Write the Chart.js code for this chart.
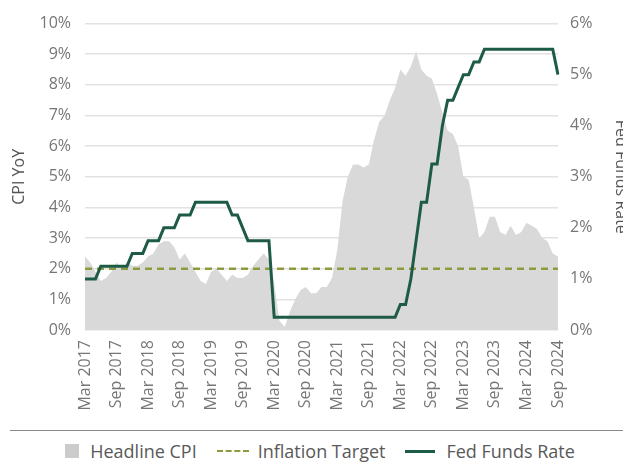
<!DOCTYPE html>
<html>
<head>
<meta charset="utf-8">
<script src="https://cdn.jsdelivr.net/npm/chart.js@4.4.1/dist/chart.umd.min.js"></script>
<style>
  html, body { margin: 0; padding: 0; background: #fff; overflow: hidden; }
  #wrap { position: relative; width: 640px; height: 466px; font-family: "Open Sans", sans-serif; }
  #box { position: absolute; left: 0; top: 0; width: 640px; height: 425px; }
  .sep { position: absolute; left: 10px; top: 430px; width: 630px; border-top: 1.5px solid #8a8a8a; }
  .legend { position: absolute; left: 0; top: 439px; width: 640px; display: flex; justify-content: center; align-items: center; font-size: 18px; color: #595959; }
  .legend span.txt { margin-right: 20px; }
  .legend span.txt:last-child { margin-right: 0; }
  .sw-box { width: 14px; height: 14px; background: #cbcbcb; margin-right: 11px; }
  .sw-dash { width: 32px; border-top: 2.5px dashed #8d9b3e; margin-right: 9px; }
  .sw-line { width: 30px; border-top: 3px solid #1e5b44; margin-right: 11px; }
</style>
</head>
<body>
<div id="wrap">
  <div id="box"><canvas id="chart"></canvas></div>
  <div class="sep"></div>
  <div class="legend">
    <span class="sw-box"></span><span class="txt">Headline CPI</span>
    <span class="sw-dash"></span><span class="txt">Inflation Target</span>
    <span class="sw-line"></span><span class="txt">Fed Funds Rate</span>
  </div>
</div>
<script>
// monthly, Mar 2017 - Sep 2024
const months = [
  'Mar 2017','Apr 2017','May 2017','Jun 2017','Jul 2017','Aug 2017','Sep 2017','Oct 2017','Nov 2017','Dec 2017',
  'Jan 2018','Feb 2018','Mar 2018','Apr 2018','May 2018','Jun 2018','Jul 2018','Aug 2018','Sep 2018','Oct 2018','Nov 2018','Dec 2018',
  'Jan 2019','Feb 2019','Mar 2019','Apr 2019','May 2019','Jun 2019','Jul 2019','Aug 2019','Sep 2019','Oct 2019','Nov 2019','Dec 2019',
  'Jan 2020','Feb 2020','Mar 2020','Apr 2020','May 2020','Jun 2020','Jul 2020','Aug 2020','Sep 2020','Oct 2020','Nov 2020','Dec 2020',
  'Jan 2021','Feb 2021','Mar 2021','Apr 2021','May 2021','Jun 2021','Jul 2021','Aug 2021','Sep 2021','Oct 2021','Nov 2021','Dec 2021',
  'Jan 2022','Feb 2022','Mar 2022','Apr 2022','May 2022','Jun 2022','Jul 2022','Aug 2022','Sep 2022','Oct 2022','Nov 2022','Dec 2022',
  'Jan 2023','Feb 2023','Mar 2023','Apr 2023','May 2023','Jun 2023','Jul 2023','Aug 2023','Sep 2023','Oct 2023','Nov 2023','Dec 2023',
  'Jan 2024','Feb 2024','Mar 2024','Apr 2024','May 2024','Jun 2024','Jul 2024','Aug 2024','Sep 2024'
];

const cpiYoY = [
  2.4, 2.2, 1.9, 1.6, 1.7, 1.9, 2.2, 2.0, 2.2, 2.1,
  2.1, 2.2, 2.4, 2.5, 2.8, 2.9, 2.9, 2.7, 2.3, 2.5, 2.2, 1.9,
  1.6, 1.5, 1.9, 2.0, 1.8, 1.6, 1.8, 1.7, 1.7, 1.8, 2.1, 2.3,
  2.5, 2.3, 1.5, 0.3, 0.1, 0.6, 1.0, 1.3, 1.4, 1.2, 1.2, 1.4,
  1.4, 1.7, 2.6, 4.2, 5.0, 5.4, 5.4, 5.3, 5.4, 6.2, 6.8, 7.0,
  7.5, 7.9, 8.5, 8.3, 8.6, 9.1, 8.5, 8.3, 8.2, 7.7, 7.1, 6.5,
  6.4, 6.0, 5.0, 4.9, 4.0, 3.0, 3.2, 3.7, 3.7, 3.2, 3.1, 3.4,
  3.1, 3.2, 3.5, 3.4, 3.3, 3.0, 2.9, 2.5, 2.4
];

const fedFunds = [
  1.00, 1.00, 1.00, 1.25, 1.25, 1.25, 1.25, 1.25, 1.25, 1.50,
  1.50, 1.50, 1.75, 1.75, 1.75, 2.00, 2.00, 2.00, 2.25, 2.25, 2.25, 2.50,
  2.50, 2.50, 2.50, 2.50, 2.50, 2.50, 2.25, 2.25, 2.00, 1.75, 1.75, 1.75,
  1.75, 1.75, 0.25, 0.25, 0.25, 0.25, 0.25, 0.25, 0.25, 0.25, 0.25, 0.25,
  0.25, 0.25, 0.25, 0.25, 0.25, 0.25, 0.25, 0.25, 0.25, 0.25, 0.25, 0.25,
  0.25, 0.25, 0.50, 0.50, 1.00, 1.75, 2.50, 2.50, 3.25, 3.25, 4.00, 4.50,
  4.50, 4.75, 5.00, 5.00, 5.25, 5.25, 5.50, 5.50, 5.50, 5.50, 5.50, 5.50,
  5.50, 5.50, 5.50, 5.50, 5.50, 5.50, 5.50, 5.50, 5.00
];

const inflationTarget = 2;

const tickFont = { family: 'Open Sans', size: 16 };
const tickColor = '#767676';

const ctx = document.getElementById('chart');
new Chart(ctx, {
  type: 'line',
  data: {
    labels: months,
    datasets: [
      {
        label: 'Fed Funds Rate',
        data: fedFunds,
        yAxisID: 'y1',
        borderColor: '#1e5b44',
        borderWidth: 3,
        pointRadius: 0,
        tension: 0,
        fill: false,
        order: 1
      },
      {
        label: 'Inflation Target',
        data: months.map(() => inflationTarget),
        yAxisID: 'y',
        borderColor: '#8d9b3e',
        borderWidth: 2.5,
        borderDash: [7, 5],
        pointRadius: 0,
        fill: false,
        order: 2
      },
      {
        label: 'Headline CPI',
        data: cpiYoY,
        yAxisID: 'y',
        borderWidth: 0,
        borderColor: 'rgba(0,0,0,0)',
        backgroundColor: '#d9d9d9',
        pointRadius: 0,
        tension: 0,
        fill: 'origin',
        order: 3
      }
    ]
  },
  options: {
    responsive: true,
    maintainAspectRatio: false,
    animation: false,
    layout: { padding: { top: 19, left: 0, right: 0, bottom: 0 } },
    plugins: {
      legend: { display: false },
      tooltip: { enabled: false }
    },
    scales: {
      x: {
        grid: { display: false, drawTicks: false },
        border: { display: false },
        afterFit: (scale) => { scale.height = 95; },
        ticks: {
          autoSkip: false,
          maxRotation: 90,
          minRotation: 90,
          padding: 10,
          font: tickFont,
          color: tickColor,
          callback: function (val, i) {
            return i % 6 === 0 ? months[i] : null;
          }
        }
      },
      y: {
        position: 'left',
        min: 0,
        max: 10,
        afterFit: (scale) => { scale.width = 85; },
        grid: { color: '#e2e2e2', lineWidth: 1.5, drawTicks: false },
        border: { display: false },
        ticks: {
          stepSize: 1,
          padding: 14,
          font: tickFont,
          color: tickColor,
          callback: (v) => v + '%'
        },
        title: {
          display: true,
          text: 'CPI YoY',
          color: '#555',
          font: { family: 'Open Sans', size: 16 },
          padding: { top: 10, bottom: 0 }
        }
      },
      y1: {
        position: 'right',
        min: 0,
        max: 6,
        afterFit: (scale) => { scale.width = 82; },
        grid: { display: false, drawTicks: false },
        border: { display: false },
        ticks: {
          stepSize: 1,
          padding: 12,
          font: tickFont,
          color: tickColor,
          callback: (v) => v + '%'
        },
        title: {
          display: true,
          text: 'Fed Funds Rate',
          color: '#555',
          font: { family: 'Open Sans', size: 16 },
          padding: { top: 10, bottom: 0 }
        }
      }
    }
  }
});
</script>
</body>
</html>
